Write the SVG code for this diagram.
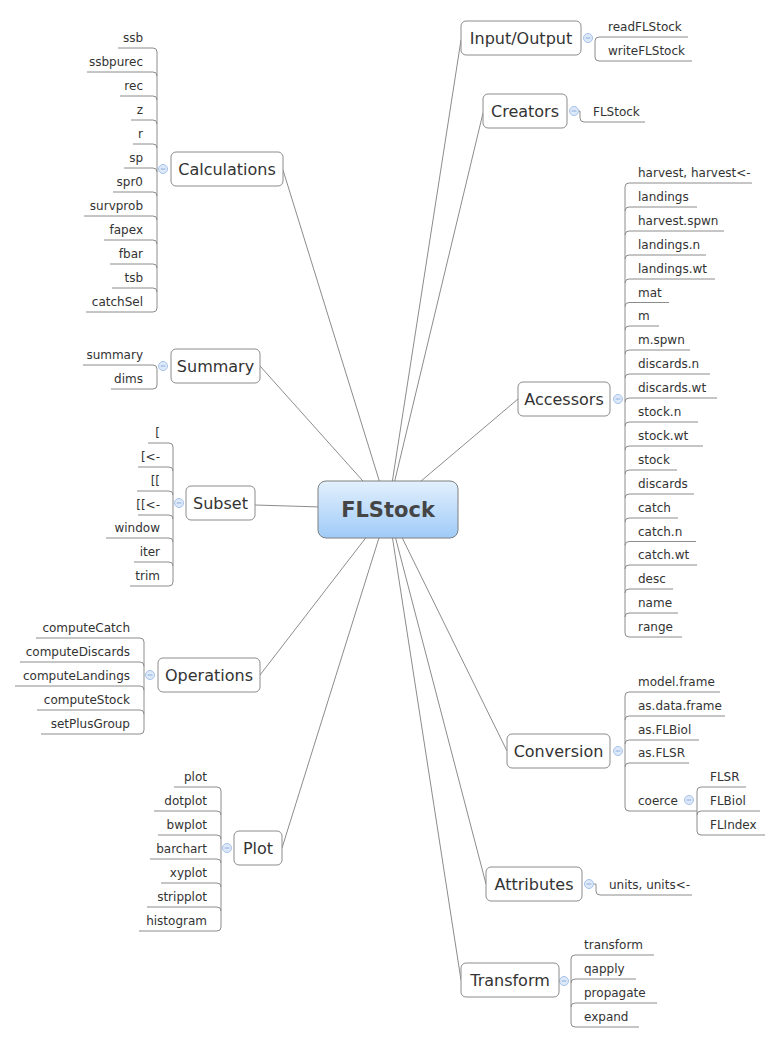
<svg xmlns="http://www.w3.org/2000/svg" width="781" height="1044" viewBox="0 0 781 1044">
<defs>
<linearGradient id="cg" x1="0" y1="0" x2="0" y2="1">
<stop offset="0" stop-color="#e3f0fd"/>
<stop offset="1" stop-color="#9fcbf8"/>
</linearGradient>
<g id="col"><circle r="4.5" fill="#dde9f9" stroke="#a6c2ea" stroke-width="1"/><line x1="-2.3" y1="0" x2="2.3" y2="0" stroke="#8eaee0" stroke-width="1"/></g>
</defs>
<style>
text{font-family:"DejaVu Sans","Liberation Sans",sans-serif;fill:#333}
.t{font-size:16px}
.l{font-size:12px}
.e{text-anchor:end}
.ln{fill:none;stroke:#8c8c8c;stroke-width:1}
.box{fill:#fff;stroke:#8c8c8c;stroke-width:1}
</style>
<rect width="781" height="1044" fill="#fff"/>
<g id="connectors" class="ln">
<path d="M388,509L461,40M388,509L483,113M388,509L518,399M388,509L507,751M388,509L486,884M388,509L461,980M388,509L283,170M388,509L260,366M388,509L255,505M388,509L260,675M388,509L282,848"/>
<path d="M688,37H599Q595,37 595,41V57Q595,61 599,61H692"/>
<path d="M578,111H580V118Q580,122 584,122H645"/>
<path d="M752,183H629Q625,183 625,187V633Q625,637 629,637H682M625,211Q625,207 629,207H697M625,235Q625,231 629,231H724M625,259Q625,255 629,255H706M625,283Q625,279 629,279H715M625,306.5Q625,302.5 629,302.5H669M625,330Q625,326 629,326H659M625,354Q625,350 629,350H690M625,378Q625,374 629,374H710M625,402Q625,398 629,398H717M625,426Q625,422 629,422H698M625,450Q625,446 629,446H703M625,474Q625,470 629,470H677M625,498Q625,494 629,494H694M625,522Q625,518 629,518H678M625,545.5Q625,541.5 629,541.5H696M625,569Q625,565 629,565H697M625,593Q625,589 629,589H673M625,617Q625,613 629,613H678"/>
<path d="M720,692H629Q625,692 625,696V807Q625,811 629,811H697M625,720Q625,716 629,716H725M625,744Q625,740 629,740H699M625,767Q625,763 629,763H689"/>
<path d="M746,787H701Q697,787 697,791V831Q697,835 701,835H765M697,815Q697,811 701,811H760"/>
<path d="M594,884H596V891Q596,895 600,895H692"/>
<path d="M654,955H575Q571,955 571,959V1023Q571,1027 575,1027H639M571,983Q571,979 575,979H636M571,1007Q571,1003 575,1003H657"/>
<path d="M118,48H153Q157,48 157,52V308Q157,312 153,312H86M87,72H153Q157,72 157,76M120,96H153Q157,96 157,100M131,120H153Q157,120 157,124M133,144H153Q157,144 157,148M124,168H153Q157,168 157,172M113,192H153Q157,192 157,196M84,216H153Q157,216 157,220M104,240H153Q157,240 157,244M110,264H153Q157,264 157,268M112,288H153Q157,288 157,292"/>
<path d="M83,365H153Q157,365 157,369V385Q157,389 153,389H111"/>
<path d="M148,443H169Q173,443 173,447V582Q173,586 169,586H130M138,467H169Q173,467 173,471M137,491H169Q173,491 173,495M138,515H169Q173,515 173,519M106,538H169Q173,538 173,542M134,562H169Q173,562 173,566"/>
<path d="M36,638H140Q144,638 144,642V730Q144,734 140,734H41M20,662H140Q144,662 144,666M15,686H140Q144,686 144,690M37,710H140Q144,710 144,714"/>
<path d="M174,787H217Q221,787 221,791V927Q221,931 217,931H139M154,811H217Q221,811 221,815M158,835H217Q221,835 221,839M150,859H217Q221,859 221,863M161,883H217Q221,883 221,887M147,907H217Q221,907 221,911"/>
</g>
<g id="collapse">
<use href="#col" x="588" y="38"/><use href="#col" x="574" y="111"/><use href="#col" x="618" y="399"/><use href="#col" x="618" y="751"/><use href="#col" x="689" y="800"/><use href="#col" x="589" y="884"/><use href="#col" x="564" y="981"/>
<use href="#col" x="163" y="169"/><use href="#col" x="163" y="366"/><use href="#col" x="179" y="503"/><use href="#col" x="150" y="675"/><use href="#col" x="227" y="848"/>
</g>
<g id="root"><rect x="318" y="481" width="140" height="57" rx="8" fill="url(#cg)" stroke="#7f7f7f"/><text x="388" y="517" text-anchor="middle" style="font-size:21px;font-weight:bold;fill:#454545">FLStock</text></g>
<g id="io"><rect class="box" x="461" y="21" width="120" height="34" rx="5"/><text class="t" x="521" y="44" text-anchor="middle">Input/Output</text></g>
<g id="creators"><rect class="box" x="483" y="94" width="84" height="34" rx="5"/><text class="t" x="525" y="117" text-anchor="middle">Creators</text></g>
<g id="accessors"><rect class="box" x="518" y="382" width="92" height="34" rx="5"/><text class="t" x="564" y="405" text-anchor="middle">Accessors</text></g>
<g id="conversion"><rect class="box" x="507" y="734" width="103" height="34" rx="5"/><text class="t" x="558.5" y="757" text-anchor="middle">Conversion</text></g>
<g id="attributes"><rect class="box" x="486" y="867" width="96" height="34" rx="5"/><text class="t" x="534" y="890" text-anchor="middle">Attributes</text></g>
<g id="transform"><rect class="box" x="461" y="963" width="98" height="34" rx="5"/><text class="t" x="510" y="986" text-anchor="middle">Transform</text></g>
<g id="calculations"><rect class="box" x="171" y="152" width="112" height="34" rx="5"/><text class="t" x="227" y="175" text-anchor="middle">Calculations</text></g>
<g id="summary"><rect class="box" x="171" y="349" width="89" height="34" rx="5"/><text class="t" x="215.5" y="372" text-anchor="middle">Summary</text></g>
<g id="subset"><rect class="box" x="186" y="486" width="69" height="34" rx="5"/><text class="t" x="220.5" y="509" text-anchor="middle">Subset</text></g>
<g id="operations"><rect class="box" x="158" y="658" width="102" height="34" rx="5"/><text class="t" x="209" y="681" text-anchor="middle">Operations</text></g>
<g id="plot"><rect class="box" x="234" y="831" width="48" height="34" rx="5"/><text class="t" x="258" y="854" text-anchor="middle">Plot</text></g>
<g id="io-leaves"><text class="l" x="608" y="31">readFLStock</text><text class="l" x="608" y="55">writeFLStock</text></g>
<g id="creators-leaves"><text class="l" x="593" y="116">FLStock</text></g>
<g id="accessors-leaves">
<text class="l" x="638" y="177">harvest, harvest&lt;-</text>
<text class="l" x="638" y="201">landings</text>
<text class="l" x="638" y="225">harvest.spwn</text>
<text class="l" x="638" y="249">landings.n</text>
<text class="l" x="638" y="273">landings.wt</text>
<text class="l" x="638" y="296.5">mat</text>
<text class="l" x="638" y="320">m</text>
<text class="l" x="638" y="344">m.spwn</text>
<text class="l" x="638" y="368">discards.n</text>
<text class="l" x="638" y="392">discards.wt</text>
<text class="l" x="638" y="416">stock.n</text>
<text class="l" x="638" y="440">stock.wt</text>
<text class="l" x="638" y="464">stock</text>
<text class="l" x="638" y="488">discards</text>
<text class="l" x="638" y="512">catch</text>
<text class="l" x="638" y="535.5">catch.n</text>
<text class="l" x="638" y="559">catch.wt</text>
<text class="l" x="638" y="583">desc</text>
<text class="l" x="638" y="607">name</text>
<text class="l" x="638" y="631">range</text>
</g>
<g id="conversion-leaves">
<text class="l" x="638" y="686">model.frame</text>
<text class="l" x="638" y="710">as.data.frame</text>
<text class="l" x="638" y="734">as.FLBiol</text>
<text class="l" x="638" y="757">as.FLSR</text>
<text class="l" x="638" y="805">coerce</text>
</g>
<g id="coerce-leaves">
<text class="l" x="710" y="781">FLSR</text>
<text class="l" x="710" y="805">FLBiol</text>
<text class="l" x="710" y="829">FLIndex</text>
</g>
<g id="attributes-leaves"><text class="l" x="609" y="889">units, units&lt;-</text></g>
<g id="transform-leaves">
<text class="l" x="584" y="949">transform</text>
<text class="l" x="584" y="973">qapply</text>
<text class="l" x="584" y="997">propagate</text>
<text class="l" x="584" y="1021">expand</text>
</g>
<g id="calculations-leaves">
<text class="l e" x="143" y="42">ssb</text>
<text class="l e" x="143" y="66">ssbpurec</text>
<text class="l e" x="143" y="90">rec</text>
<text class="l e" x="143" y="114">z</text>
<text class="l e" x="143" y="138">r</text>
<text class="l e" x="143" y="162">sp</text>
<text class="l e" x="143" y="186">spr0</text>
<text class="l e" x="143" y="210">survprob</text>
<text class="l e" x="143" y="234">fapex</text>
<text class="l e" x="143" y="258">fbar</text>
<text class="l e" x="143" y="282">tsb</text>
<text class="l e" x="143" y="306">catchSel</text>
</g>
<g id="summary-leaves">
<text class="l e" x="143" y="359">summary</text>
<text class="l e" x="143" y="383">dims</text>
</g>
<g id="subset-leaves">
<text class="l e" x="160" y="437">[</text>
<text class="l e" x="160" y="461">[&lt;-</text>
<text class="l e" x="160" y="485">[[</text>
<text class="l e" x="160" y="509">[[&lt;-</text>
<text class="l e" x="160" y="532">window</text>
<text class="l e" x="160" y="556">iter</text>
<text class="l e" x="160" y="580">trim</text>
</g>
<g id="operations-leaves">
<text class="l e" x="130" y="632">computeCatch</text>
<text class="l e" x="130" y="656">computeDiscards</text>
<text class="l e" x="130" y="680">computeLandings</text>
<text class="l e" x="130" y="704">computeStock</text>
<text class="l e" x="130" y="728">setPlusGroup</text>
</g>
<g id="plot-leaves">
<text class="l e" x="207" y="781">plot</text>
<text class="l e" x="207" y="805">dotplot</text>
<text class="l e" x="207" y="829">bwplot</text>
<text class="l e" x="207" y="853">barchart</text>
<text class="l e" x="207" y="877">xyplot</text>
<text class="l e" x="207" y="901">stripplot</text>
<text class="l e" x="207" y="925">histogram</text>
</g>
</svg>
